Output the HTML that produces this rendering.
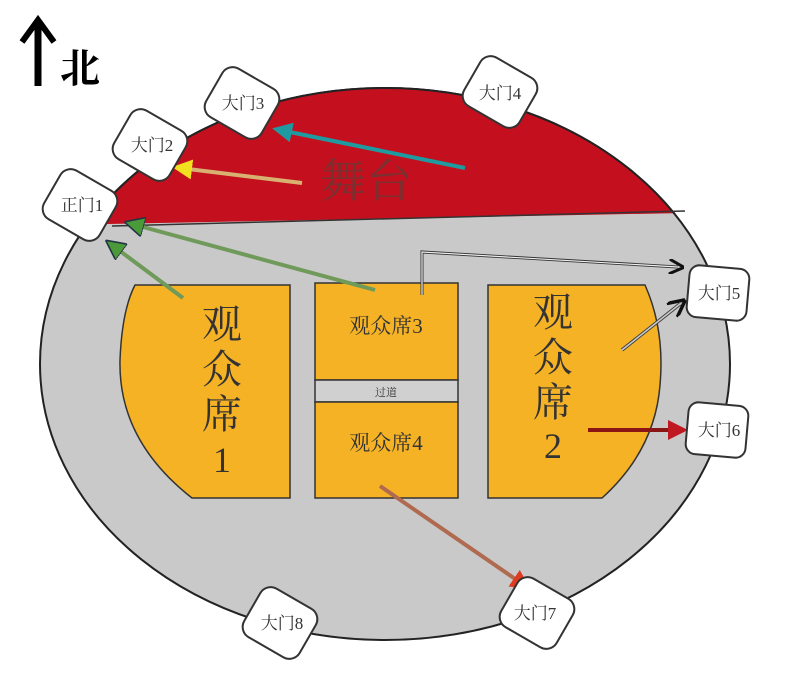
<!DOCTYPE html>
<html><head><meta charset="utf-8"><style>
html,body{margin:0;padding:0;background:#fff;width:790px;height:682px;overflow:hidden}
text{font-family:"Liberation Serif","Noto Serif CJK SC",serif}
</style></head><body>
<svg width="790" height="682" viewBox="0 0 790 682" xmlns="http://www.w3.org/2000/svg">
<defs>
<clipPath id="top"><polygon points="0,0 790,0 790,211 0,226"/></clipPath>
<marker id="mg" markerWidth="5" markerHeight="5" refX="3" refY="2.5" orient="auto"><path d="M0,0 L5,2.5 L0,5 z" fill="#4a9a3a" stroke="#234" stroke-width="0.4"/></marker>
<marker id="my" markerWidth="5" markerHeight="5" refX="3" refY="2.5" orient="auto"><path d="M0,0 L5,2.5 L0,5 z" fill="#f0e020"/></marker>
<marker id="mt" markerWidth="5" markerHeight="5" refX="3" refY="2.5" orient="auto"><path d="M0,0 L5,2.5 L0,5 z" fill="#1e9aa0"/></marker>
<marker id="mk" markerWidth="5" markerHeight="5" refX="3" refY="2.5" orient="auto"><path d="M0,0 L5,2.5 L0,5" fill="none" stroke="#111" stroke-width="1"/></marker>
<marker id="mr" markerWidth="5" markerHeight="5" refX="3" refY="2.5" orient="auto"><path d="M0,0 L5,2.5 L0,5 z" fill="#c01820"/></marker>
<marker id="mo" markerWidth="5" markerHeight="5" refX="3" refY="2.5" orient="auto"><path d="M0,0 L5,2.5 L0,5 z" fill="#e03a20"/></marker>
</defs>
<line x1="38" y1="86" x2="38" y2="22" stroke="#000" stroke-width="7"/>
<path d="M22,42 L38,20 L54,42" fill="none" stroke="#000" stroke-width="6"/>
<text x="60" y="82" font-size="40" font-family="Liberation Sans,Noto Sans CJK SC,sans-serif" font-weight="bold">北</text>
<ellipse cx="385" cy="364" rx="345" ry="276" fill="#c9c9c9" stroke="#222" stroke-width="2"/>
<ellipse cx="385" cy="364" rx="345" ry="276" fill="#c4101e" stroke="#222" stroke-width="2" clip-path="url(#top)"/>
<line x1="112" y1="226" x2="685" y2="211" stroke="#333" stroke-width="1.5"/>
<text x="320" y="197" font-size="46" fill="#7a3030">舞台</text>
<path d="M135,285 L290,285 L290,498 L192,498 Q118,440 120,360 Q122,310 135,285 Z" fill="#f5b225" stroke="#333" stroke-width="1.5"/>
<rect x="315" y="283" width="143" height="97" fill="#f5b225" stroke="#333" stroke-width="1.5"/>
<rect x="315" y="380" width="143" height="22" fill="#d0d0d0" stroke="#333" stroke-width="1.5"/>
<rect x="315" y="402" width="143" height="96" fill="#f5b225" stroke="#333" stroke-width="1.5"/>
<path d="M488,285 L645,285 Q665,330 660,385 Q655,450 602,498 L488,498 Z" fill="#f5b225" stroke="#333" stroke-width="1.5"/>
<text x="222" y="338" font-size="40" text-anchor="middle" fill="#333">观</text>
<text x="222" y="383" font-size="40" text-anchor="middle" fill="#333">众</text>
<text x="222" y="428" font-size="40" text-anchor="middle" fill="#333">席</text>
<text x="222" y="472" font-size="36" text-anchor="middle" fill="#333">1</text>
<text x="553" y="326" font-size="40" text-anchor="middle" fill="#333">观</text>
<text x="553" y="371" font-size="40" text-anchor="middle" fill="#333">众</text>
<text x="553" y="416" font-size="40" text-anchor="middle" fill="#333">席</text>
<text x="553" y="458" font-size="36" text-anchor="middle" fill="#333">2</text>
<text x="386" y="333" font-size="21" text-anchor="middle" fill="#333">观众席3</text>
<text x="386" y="450" font-size="21" text-anchor="middle" fill="#333">观众席4</text>
<text x="386" y="396" font-size="11" text-anchor="middle" fill="#333">过道</text>
<g stroke-width="4" fill="none">
<line x1="183" y1="298" x2="112" y2="245" stroke="#6f9a5a" marker-end="url(#mg)"/>
<line x1="375" y1="290" x2="132" y2="224" stroke="#6f9a5a" marker-end="url(#mg)"/>
<line x1="302" y1="183" x2="180" y2="168" stroke="#d8b070" marker-end="url(#my)"/>
<line x1="465" y1="168" x2="280" y2="130" stroke="#1e9aa0" marker-end="url(#mt)"/>
<polyline points="422,295 422,252 678,267" stroke="#333" stroke-width="3" marker-end="url(#mk)"/>
<polyline points="422,295 422,252 678,267" stroke="#eee" stroke-width="1.2"/>
<line x1="622" y1="350" x2="680" y2="304" stroke="#444" stroke-width="3.5" marker-end="url(#mk)"/>
<line x1="622" y1="350" x2="680" y2="304" stroke="#ccc" stroke-width="1.5"/>
<line x1="588" y1="430" x2="680" y2="430" stroke="#8a1515" marker-end="url(#mr)"/>
<line x1="380" y1="486" x2="524" y2="585" stroke="#b06a50" marker-end="url(#mo)"/>
</g>
<g fill="#fff" stroke="#333" stroke-width="2">
<rect x="-32" y="-28" width="64" height="56" rx="12" transform="translate(80,205) rotate(30)"/>
<rect x="-32" y="-28" width="64" height="56" rx="12" transform="translate(150,145) rotate(30)"/>
<rect x="-32" y="-28" width="64" height="56" rx="12" transform="translate(242,103) rotate(30)"/>
<rect x="-32" y="-28" width="64" height="56" rx="12" transform="translate(500,92) rotate(30)"/>
<rect x="-30" y="-26" width="60" height="52" rx="10" transform="translate(718,293) rotate(5)"/>
<rect x="-30" y="-26" width="60" height="52" rx="10" transform="translate(717,430) rotate(5)"/>
<rect x="-32" y="-28" width="64" height="56" rx="12" transform="translate(537,613) rotate(30)"/>
<rect x="-32" y="-28" width="64" height="56" rx="12" transform="translate(280,623) rotate(30)"/>
</g>
<g font-size="17" fill="#333" text-anchor="middle">
<text x="82" y="211">正门1</text>
<text x="152" y="151">大门2</text>
<text x="243" y="109">大门3</text>
<text x="500" y="99">大门4</text>
<text x="719" y="299">大门5</text>
<text x="719" y="436">大门6</text>
<text x="535" y="619">大门7</text>
<text x="282" y="629">大门8</text>
</g>
</svg>
</body></html>
